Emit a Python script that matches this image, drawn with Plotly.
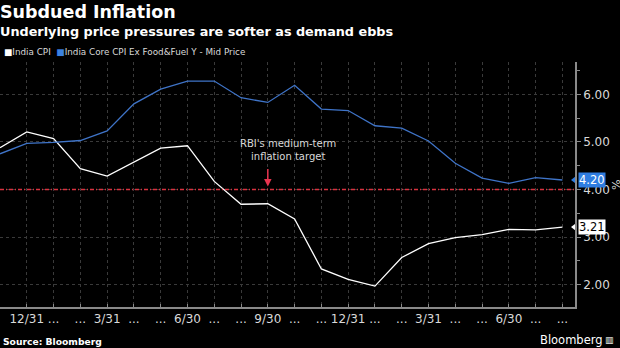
import plotly.graph_objects as go

# Monthly readings, Nov 2017 - Aug 2019 (year-on-year, %)
months = ["2017-11", "2017-12", "2018-01", "2018-02", "2018-03", "2018-04",
          "2018-05", "2018-06", "2018-07", "2018-08", "2018-09", "2018-10",
          "2018-11", "2018-12", "2019-01", "2019-02", "2019-03", "2019-04",
          "2019-05", "2019-06", "2019-07", "2019-08"]
india_cpi = [4.88, 5.21, 5.07, 4.44, 4.28, 4.58, 4.87, 4.92, 4.17, 3.69, 3.70,
             3.38, 2.33, 2.11, 1.97, 2.57, 2.86, 2.99, 3.05, 3.16, 3.15, 3.21]
core_cpi = [4.75, 4.97, 4.99, 5.03, 5.23, 5.80, 6.11, 6.28, 6.28, 5.93, 5.83,
            6.19, 5.69, 5.66, 5.34, 5.29, 5.02, 4.55, 4.24, 4.13, 4.25, 4.20]
tick_labels = ["", "12/31", "...", "...", "3/31", "...", "...", "6/30", "...",
               "...", "9/30", "...", "...", "12/31", "...", "...", "3/31", "...",
               "...", "6/30", "...", "..."]
inflation_target = 4.0
y_ticks = [2.0, 3.0, 4.0, 5.0, 6.0]

WHITE = "#ffffff"
BLUE = "#3f74c8"
TARGET_RED = "#d8323f"
GRID = "#3a3a3a"
TEXT = "#d9d9d9"
FONT = "DejaVu Sans"

idx = list(range(len(months)))
x_end = len(months) - 1 + 0.47

fig = go.Figure()
fig.add_trace(go.Scatter(x=idx, y=india_cpi, mode="lines", name="India CPI",
                         line=dict(color=WHITE, width=1.3), showlegend=False))
fig.add_trace(go.Scatter(x=idx, y=core_cpi, mode="lines",
                         name="India Core CPI Ex Food&Fuel Y - Mid Price",
                         line=dict(color=BLUE, width=1.3), showlegend=False))

# last-value pointers on the right axis
for vals, bg, fg in [(core_cpi, "#2f7de1", WHITE), (india_cpi, WHITE, "#000000")]:
    last = vals[-1]
    fig.add_trace(go.Scatter(x=[x_end], y=[last], mode="markers",
                             marker=dict(symbol="triangle-left", size=8, color=bg),
                             cliponaxis=False, showlegend=False, hoverinfo="skip"))
    fig.add_annotation(x=x_end, y=last, xref="x", yref="y", text=f"{last:.2f}",
                       showarrow=False, xanchor="left", xshift=3, bgcolor=bg,
                       font=dict(color=fg, size=11.5, family=FONT),
                       borderpad=0)

# inflation target line
fig.add_shape(type="line", xref="paper", x0=0, x1=1, yref="y",
              y0=inflation_target, y1=inflation_target,
              line=dict(color=TARGET_RED, width=1.5, dash="4px,2px,1px,2px"))
fig.add_annotation(x=10, y=inflation_target, xref="x", yref="y", text="",
                   showarrow=True, arrowhead=2, arrowsize=1, arrowwidth=1.5,
                   arrowcolor="#e8344f", ax=0, ay=-22, standoff=3)
fig.add_annotation(x=10, y=inflation_target, xref="x", yref="y",
                   text="RBI's medium-term<br>inflation target", showarrow=False,
                   yanchor="bottom", yshift=26, xshift=20,
                   font=dict(color=TEXT, size=10, family=FONT))

fig.update_layout(
    width=620, height=348,
    paper_bgcolor="#000000", plot_bgcolor="#000000",
    margin=dict(l=0, r=45, t=62, b=41),
    font=dict(family=FONT, color=TEXT),
    xaxis=dict(range=[0, x_end], tickmode="array", tickvals=idx,
               ticktext=tick_labels, showgrid=True, gridcolor=GRID,
               griddash="dot", gridwidth=1, zeroline=False,
               showline=True, linecolor="#8a8a8a", linewidth=1.5,
               ticks="inside", ticklen=3, tickcolor="#8a8a8a",
               tickfont=dict(size=12, color=TEXT, family=FONT)),
    yaxis=dict(range=[1.53, 6.68], side="right", tickvals=y_ticks,
               tickformat=".2f", showgrid=True, gridcolor=GRID,
               griddash="dot", zeroline=False, showline=True,
               linecolor="#8a8a8a", linewidth=1.5, ticks="outside", ticklen=4,
               tickcolor="#8a8a8a",
               minor=dict(dtick=0.5, ticks="outside", ticklen=3,
                          tickcolor="#8a8a8a", showgrid=False),
               tickfont=dict(size=12, color=TEXT, family=FONT)),
    showlegend=False,
)

# titles, legend and credits (offsets in pixels from the plot edges)
def header(text, x, y, yshift, size, color=WHITE, xanchor="left", xshift=0, angle=0):
    fig.add_annotation(xref="paper", yref="paper", x=x, y=y, xanchor=xanchor,
                       yanchor="middle", yshift=yshift, xshift=xshift, text=text,
                       showarrow=False, textangle=angle,
                       font=dict(size=size, color=color, family=FONT))

header("<b>Subdued Inflation</b>", 0, 1, 50, 17.5, xshift=-2)
header("<b>Underlying price pressures are softer as demand ebbs</b>", 0, 1, 31, 12.8, xshift=-2)
header((f"<span style='color:{WHITE}'>■</span>India CPI  "
        f"<span style='color:#3c82e0'>■</span>"
        "India Core CPI Ex Food&Fuel Y - Mid Price"), 0, 1, 10, 8.8, color=TEXT, xshift=2)
header("%", 1, 0.5, 0, 11, color=TEXT, xanchor="center", xshift=40, angle=90)
header("<b>Source: Bloomberg</b>", 0, 0, -34, 9.2, xshift=1)
header("Bloomberg", 1, 0, -33, 11.5, xanchor="right", xshift=30)
header("<b>▥</b>", 1, 0, -33, 9, xanchor="right", xshift=41)

fig.write_html("out.html")
